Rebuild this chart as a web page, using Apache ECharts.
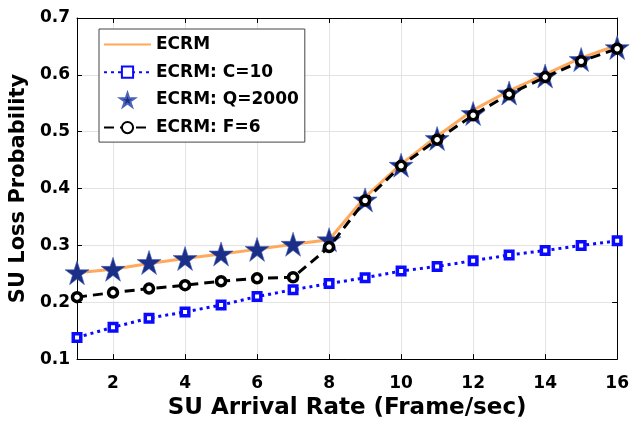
<!DOCTYPE html>
<html lang="en">
<head>
    <meta charset="UTF-8">
    <title>SU Loss Probability</title>
    <script src="https://cdn.jsdelivr.net/npm/echarts@6/dist/echarts.min.js"></script>
    <style>
        html, body { margin: 0; padding: 0; background: #fff; }
        #main { width: 632px; height: 425px; }
    </style>
</head>
<body>
    <div id="main"></div>
    <script type="text/javascript">
        // arrival rates (Frame/sec)
        const rates = [1, 2, 3, 4, 5, 6, 7, 8, 9, 10, 11, 12, 13, 14, 15, 16];
        const ecrm = [0.252, 0.258, 0.268, 0.277, 0.285, 0.293, 0.302, 0.310, 0.385, 0.443, 0.492, 0.538, 0.572, 0.601, 0.630, 0.652];
        const ecrmC10 = [0.138, 0.156, 0.172, 0.183, 0.195, 0.210, 0.222, 0.233, 0.243, 0.255, 0.263, 0.273, 0.283, 0.291, 0.300, 0.308];
        const ecrmQ2000 = [0.252, 0.258, 0.270, 0.277, 0.285, 0.293, 0.302, 0.310, 0.380, 0.441, 0.488, 0.532, 0.568, 0.598, 0.627, 0.648];
        const ecrmF6 = [0.209, 0.217, 0.224, 0.230, 0.237, 0.242, 0.244, 0.297, 0.379, 0.440, 0.486, 0.529, 0.566, 0.596, 0.624, 0.646];
        const xTicks = [2, 4, 6, 8, 10, 12, 14, 16];
        const yTicks = [0.1, 0.2, 0.3, 0.4, 0.5, 0.6, 0.7];

        const font = 'DejaVu Sans, sans-serif';
        const star = 'path://M50,0 L62,36 L100,36 L69,58 L81,95 L50,72 L19,95 L31,58 L0,36 L38,36 Z';
        const pairs = arr => rates.map((r, i) => [r, arr[i]]);
        const tickStyle = { inside: true, length: 5, lineStyle: { color: '#000' } };

        var chart = echarts.init(document.getElementById('main'));
        var option = {
            animation: false,
            backgroundColor: '#fff',
            grid: { left: 77, right: 14, top: 18, bottom: 63, containLabel: false },
            legend: {
                orient: 'vertical',
                left: 99, top: 29,
                padding: [7, 6, 6, 4],
                itemWidth: 47, itemHeight: 14, itemGap: 10.7,
                backgroundColor: '#fff',
                borderColor: '#444', borderWidth: 1,
                textStyle: { fontFamily: font, fontWeight: 'bold', fontSize: 17, lineHeight: 14, color: '#000' },
                data: [
                    { name: 'ECRM', itemStyle: { opacity: 0 } },
                    'ECRM: C=10', 'ECRM: Q=2000', 'ECRM: F=6'
                ]
            },
            xAxis: [{
                type: 'value', min: 1, max: 16,
                name: 'SU Arrival Rate (Frame/sec)', nameLocation: 'middle', nameGap: 33,
                nameTextStyle: { fontFamily: font, fontWeight: 'bold', fontSize: 23, color: '#000' },
                axisLine: { lineStyle: { color: '#000', width: 1 } },
                axisTick: Object.assign({ customValues: xTicks }, tickStyle),
                axisLabel: {
                    customValues: xTicks,
                    fontFamily: font, fontWeight: 'bold', fontSize: 17, color: '#000', margin: 16
                },
                splitLine: { show: true, lineStyle: { color: '#e3e3e3' } }
            }, {
                type: 'value', min: 1, max: 16, position: 'top',
                axisLine: { show: true, lineStyle: { color: '#000' } },
                axisTick: Object.assign({ customValues: xTicks }, tickStyle),
                axisLabel: { show: false }, splitLine: { show: false }
            }],
            yAxis: [{
                type: 'value', min: yTicks[0], max: yTicks[yTicks.length - 1], interval: 0.1,
                name: 'SU Loss Probability', nameLocation: 'middle', nameGap: 43,
                nameTextStyle: { fontFamily: font, fontWeight: 'bold', fontSize: 21, color: '#000' },
                axisLine: { show: true, lineStyle: { color: '#000' } },
                axisTick: Object.assign({ show: true }, tickStyle),
                axisLabel: { fontFamily: font, fontWeight: 'bold', fontSize: 17, color: '#000', margin: 7,
                    formatter: v => v.toFixed(1) },
                splitLine: { show: true, lineStyle: { color: '#e3e3e3' } }
            }, {
                type: 'value', min: yTicks[0], max: yTicks[yTicks.length - 1], interval: 0.1, position: 'right',
                axisLine: { show: true, lineStyle: { color: '#000' } },
                axisTick: Object.assign({ show: true }, tickStyle),
                axisLabel: { show: false }, splitLine: { show: false }
            }],
            series: [
                {
                    name: 'ECRM', type: 'line', data: pairs(ecrm), z: 2,
                    symbol: 'none',
                    lineStyle: { color: '#ffa95c', width: 3 },
                    itemStyle: { color: '#ffa95c' }
                },
                {
                    name: 'ECRM: Q=2000', type: 'scatter', data: pairs(ecrmQ2000), z: 3,
                    symbol: star, symbolSize: 24,
                    itemStyle: { color: '#1c2f87', opacity: 1, borderColor: '#4a62b8', borderWidth: 0.6 }
                },
                {
                    name: 'ECRM: F=6', type: 'line', data: pairs(ecrmF6), z: 4,
                    symbol: 'circle', symbolSize: 9,
                    lineStyle: { color: '#000', width: 3, type: [10, 6] },
                    itemStyle: { color: '#fff', borderColor: '#000', borderWidth: 3.5 }
                },
                {
                    name: 'ECRM: C=10', type: 'line', data: pairs(ecrmC10), z: 5,
                    symbol: 'rect', symbolSize: 7.5,
                    lineStyle: { color: '#0a0aff', width: 3, type: [3, 4] },
                    itemStyle: { color: '#fff', borderColor: '#0a0aff', borderWidth: 3.5 }
                }
            ]
        };
        chart.setOption(option);
    </script>
</body>
</html>
